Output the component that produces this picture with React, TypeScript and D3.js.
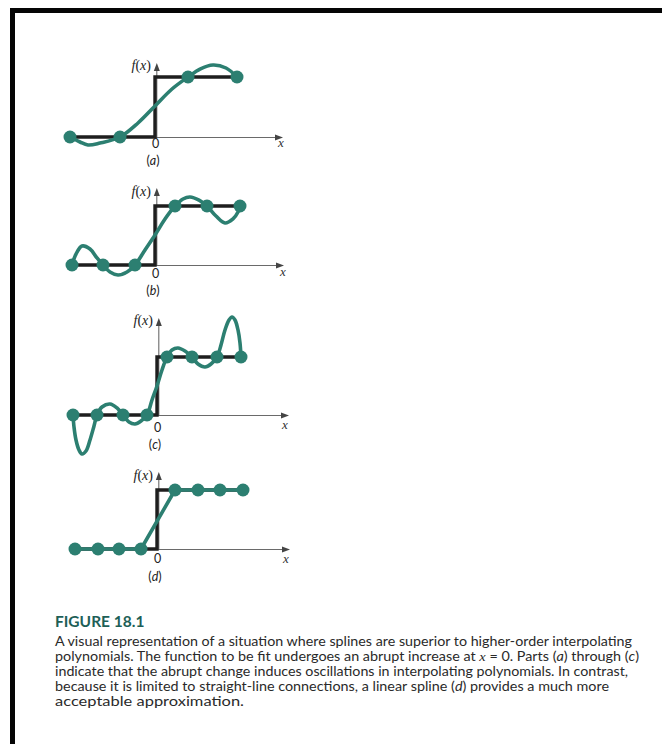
import React from "react";
import * as d3 from "d3";

// Node abscissae (units: 1 = one tenth of the panel half-width) and node values
const nodesAX = [-8.5, -3.5, 3.3, 8.2];
const nodesAY = [0, 0, 1, 1];
const nodesBX = [-8.3, -5.2, -2.0, 2.0, 5.2, 8.5];
const nodesBY = [0, 0, 0, 1, 1, 1];
const nodesCX = [-8.4, -6.0, -3.4, -1.0, 1.0, 3.5, 6.0, 8.4];
const nodesCY = [0, 0, 0, 0, 1, 1, 1, 1];
const nodesDX = [-8.2, -5.9, -3.8, -1.6, 1.8, 4.1, 6.3, 8.6];
const nodesDY = [0, 0, 0, 0, 1, 1, 1, 1];

// Traced interpolating curves
const curveAX = [-8.5, -7.5, -6.7, -5.5, -3.5, -1.7, 0, 1.7, 3.3, 4.5, 5.8, 7.1, 8.2];
const curveAY = [0, -0.083, -0.133, -0.1, 0, 0.233, 0.517, 0.8, 1, 1.133, 1.2, 1.15, 1];
const curveBX = [-8.3, -7.9, -7.3, -6.5, -5.8, -5.2, -4.5, -3.7, -2.8, -2.0, -1.0, 0, 1.0, 2.0, 2.8, 3.5, 4.4, 5.2, 6.1, 7.0, 7.8, 8.3, 8.5];
const curveBY = [0, 0.186, 0.322, 0.271, 0.119, 0, -0.119, -0.169, -0.119, 0, 0.254, 0.508, 0.78, 1, 1.119, 1.153, 1.1, 1, 0.83, 0.712, 0.78, 0.898, 1];
const curveCX = [-8.4, -8.3, -8.1, -7.8, -7.5, -7.1, -6.7, -6.3, -6.0, -5.5, -4.7, -4.0, -3.4, -2.8, -2.2, -1.6, -1.0, -0.5, 0, 0.5, 1.0, 1.5, 2.1, 2.8, 3.5, 4.1, 4.8, 5.4, 6.0, 6.4, 6.8, 7.2, 7.5, 7.8, 8.1, 8.3, 8.4];
const curveCY = [0, -0.207, -0.431, -0.603, -0.672, -0.621, -0.431, -0.19, 0, 0.138, 0.19, 0.121, 0, -0.121, -0.155, -0.103, 0, 0.259, 0.5, 0.776, 1, 1.121, 1.155, 1.103, 1, 0.879, 0.828, 0.879, 1, 1.207, 1.466, 1.638, 1.69, 1.638, 1.466, 1.241, 1];

const panelLetters = ["a", "b", "c", "d"];

const captionTitle = "FIGURE 18.1";

type Seg = { t: string; i?: boolean; serif?: boolean };
const captionLines: Seg[][] = [
  [{ t: "A visual representation of a situation where splines are superior to higher-order interpolating" }],
  [
    { t: "polynomials. The function to be fit undergoes an abrupt increase at " },
    { t: "x", i: true, serif: true },
    { t: " = 0. Parts (" },
    { t: "a", i: true },
    { t: ") through (" },
    { t: "c", i: true },
    { t: ")" },
  ],
  [{ t: "indicate that the abrupt change induces oscillations in interpolating polynomials. In contrast," }],
  [
    { t: "because it is limited to straight-line connections, a linear spline (" },
    { t: "d", i: true },
    { t: ") provides a much more" },
  ],
  [{ t: "acceptable approximation." }],
];
const captionWidths = [577, 584, 573, 554, 189];

const TEAL = "#2c7f71";
const INK = "#1e1e1e";
const SANS = "Lato, 'Open Sans', sans-serif";
const SERIF = "'Liberation Serif', 'DejaVu Serif', serif";

type Panel = {
  nx: number[];
  ny: number[];
  cx?: number[];
  cy?: number[];
  linear?: boolean;
  ox: number;
  y0: number;
  y1: number;
  yTop: number;
  xEnd: number;
  zeroY: number;
  tagY: number;
  xLabY: number;
  xLabX: number;
  fY: number;
};

const panels: Panel[] = [
  { nx: nodesAX, ny: nodesAY, cx: curveAX, cy: curveAY, ox: 155, y0: 137, y1: 77, yTop: 63, xEnd: 283, zeroY: 148, tagY: 165, xLabX: 281, xLabY: 147, fY: 70 },
  { nx: nodesBX, ny: nodesBY, cx: curveBX, cy: curveBY, ox: 155, y0: 265, y1: 206, yTop: 188, xEnd: 284, zeroY: 278, tagY: 295, xLabX: 283, xLabY: 276, fY: 196 },
  { nx: nodesCX, ny: nodesCY, cx: curveCX, cy: curveCY, ox: 157, y0: 415, y1: 357, yTop: 318, xEnd: 289, zeroY: 432, tagY: 449, xLabX: 285, xLabY: 429, fY: 325 },
  { nx: nodesDX, ny: nodesDY, linear: true, ox: 157, y0: 549, y1: 490, yTop: 472, xEnd: 290, zeroY: 563, tagY: 581, xLabX: 286, xLabY: 563, fY: 480 },
];

function PanelView({ p, letter }: { p: Panel; letter: string }) {
  const x = d3.scaleLinear().domain([0, 1]).range([p.ox, p.ox + 10]);
  const y = d3.scaleLinear().domain([0, 1]).range([p.y0, p.y1]);
  const nodes = p.nx.map((v, i) => [v, p.ny[i]] as [number, number]);
  const pts = p.linear ? nodes : (p.cx as number[]).map((v, i) => [v, (p.cy as number[])[i]] as [number, number]);
  const line = d3
    .line<[number, number]>()
    .x((d) => x(d[0]))
    .y((d) => y(d[1]))
    .curve(p.linear ? d3.curveLinear : d3.curveCatmullRom.alpha(0.5));
  const first = p.nx[0];
  const last = p.nx[p.nx.length - 1];
  const step = d3.line<[number, number]>().x((d) => x(d[0])).y((d) => y(d[1]))([
    [first, 0],
    [0, 0],
    [0, 1],
    [last, 1],
  ]);
  const ax = x(0) + 1.8;
  return (
    <g>
      {/* axes */}
      <line x1={x(first)} y1={p.y0 + 0.5} x2={p.xEnd - 6} y2={p.y0 + 0.5} stroke="#6a6a6a" strokeWidth={1.1} />
      <path d={`M${p.xEnd},${p.y0 + 0.5}L${p.xEnd - 8},${p.y0 - 2.5}L${p.xEnd - 8},${p.y0 + 3.5}Z`} fill="#444" />
      <line x1={ax} y1={p.y0} x2={ax} y2={p.yTop + 6} stroke="#6a6a6a" strokeWidth={1.1} />
      <path d={`M${ax},${p.yTop}L${ax - 3},${p.yTop + 8}L${ax + 3},${p.yTop + 8}Z`} fill="#444" />
      {/* step function */}
      <path d={step || ""} fill="none" stroke={INK} strokeWidth={3.4} strokeLinejoin="miter" />
      {/* interpolant */}
      <path d={line(pts) || ""} fill="none" stroke={TEAL} strokeWidth={3.6} strokeLinecap="round" strokeLinejoin="round" />
      {nodes.map((d, i) => (
        <circle key={i} cx={x(d[0])} cy={y(d[1])} r={6.5} fill={TEAL} />
      ))}
      {/* labels */}
      <text x={p.ox - 4} y={p.fY} textAnchor="end" fontFamily={SERIF} fontSize={14} fill="#222">
        <tspan fontStyle="italic">f</tspan>(<tspan fontStyle="italic">x</tspan>)
      </text>
      <text x={p.ox + 0.5} y={p.zeroY} textAnchor="middle" fontFamily={SANS} fontSize={12.5} fill="#222">0</text>
      <text x={p.xLabX} y={p.xLabY} textAnchor="middle" fontFamily={SERIF} fontStyle="italic" fontSize={13} fill="#333">x</text>
      <text x={p.ox - 2} y={p.tagY} textAnchor="middle" fontFamily={SANS} fontSize={12.5} fill="#222">
        (<tspan fontStyle="italic">{letter}</tspan>)
      </text>
    </g>
  );
}

export default function App() {
  return (
    <svg width={662} height={744} style={{ position: "absolute", left: 0, top: 0, background: "#fff" }}>
      <rect x={0} y={0} width={662} height={744} fill="#fff" />
      {/* frame */}
      <rect x={10} y={8} width={652} height={5} fill="#050505" />
      <rect x={10} y={8} width={5} height={736} fill="#050505" />
      {panels.map((p, i) => (
        <PanelView key={i} p={p} letter={panelLetters[i]} />
      ))}
      <text x={55} y={627} fontFamily={SANS} fontWeight={700} fontSize={15.5} fill="#1d5f57">
        {captionTitle}
      </text>
      {captionLines.map((segs, li) => (
        <text
          key={li}
          x={55}
          y={646 + li * 15}
          fontFamily={SANS}
          fontSize={13}
          fill="#2a2a2a"
          textLength={captionWidths[li]}
          lengthAdjust="spacingAndGlyphs"
        >
          {segs.map((s, si) => (
            <tspan key={si} fontStyle={s.i ? "italic" : undefined} fontFamily={s.serif ? SERIF : undefined}>
              {s.t}
            </tspan>
          ))}
        </text>
      ))}
    </svg>
  );
}
